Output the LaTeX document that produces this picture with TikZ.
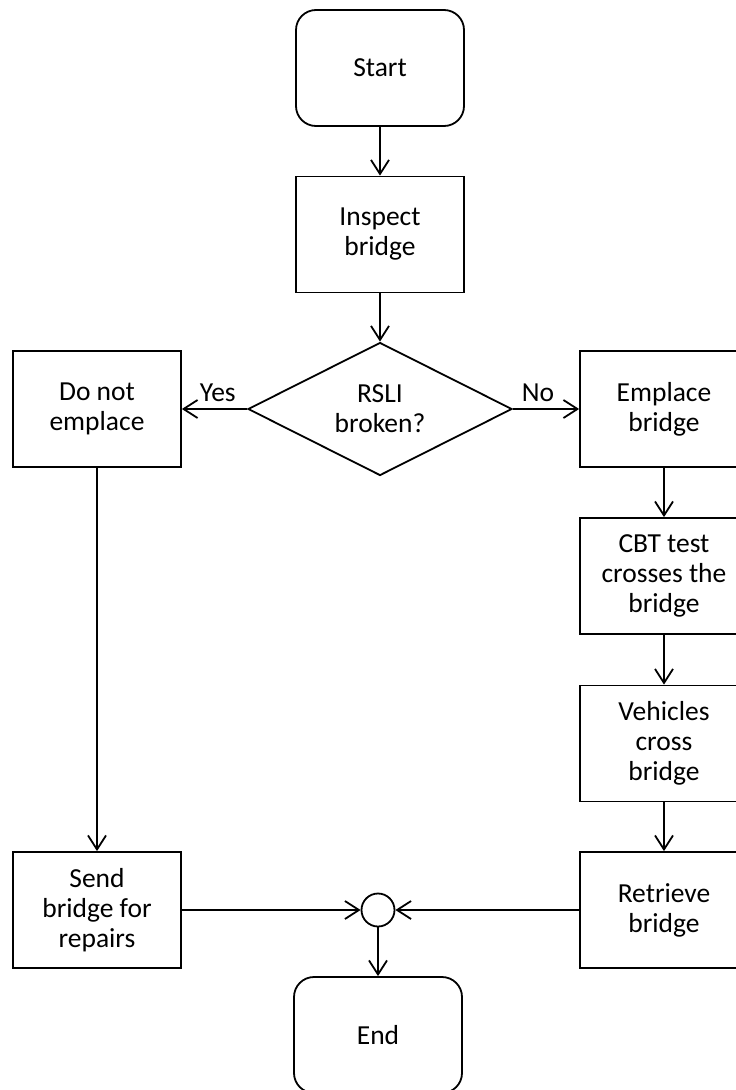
\documentclass[tikz,border=0pt]{standalone}
\usepackage{fontspec}
\setmainfont{Carlito}
\usetikzlibrary{shapes.geometric,arrows.meta}

\begin{document}
\begin{tikzpicture}[x=1pt, y=-1pt, line width=1.8pt,
  every node/.style={font=\fontsize{27.5}{30}\selectfont, align=center},
  box/.style={draw, rectangle, minimum width=168pt, minimum height=116pt, inner sep=2pt},
  term/.style={box, rounded corners=20pt},
  decide/.style={draw, diamond, aspect=2, minimum width=264pt, minimum height=133pt, inner sep=0pt},
  joint/.style={draw, circle, minimum size=33pt, inner sep=0pt},
  flow/.style={-{Straight Barb[length=14pt, width=18pt]}}]

\def \midx {380}
\def \leftx {97}
\def \rightx {664}

\useasboundingbox (0,0) rectangle (736,1090);

% main column
\node[term] (start) at (\midx, 68) {Start};
\node[box] (inspect) at (\midx, 234.5) {Inspect\\bridge};
\node[decide] (check) at (\midx, 409) {RSLI\\broken?};

% left branch
\node[box] (noemplace) at (\leftx, 409) {Do not\\emplace};
\node[box] (repairs) at (\leftx, 910) {Send\\bridge for\\repairs};

% right branch
\node[box] (emplace) at (\rightx, 409) {Emplace\\bridge};
\node[box] (cbt) at (\rightx, 576) {CBT test\\crosses the\\bridge};
\node[box] (vehicles) at (\rightx, 743.5) {Vehicles\\cross\\bridge};
\node[box] (retrieve) at (\rightx, 910) {Retrieve\\bridge};

% merge and finish
\node[joint] (merge) at (378, 910) {};
\node[term] (finish) at (378, 1035) {End};

\draw[flow] (start) -- (inspect);
\draw[flow] (inspect) -- (check);
\draw[flow] (check.west) -- node[pos=0.45, above=3pt] {Yes} (noemplace);
\draw[flow] (check.east) -- node[pos=0.38, above=3pt] {No} (emplace);
\draw[flow] (noemplace) -- (repairs);
\foreach \a/\b in {emplace/cbt, cbt/vehicles, vehicles/retrieve}
  \draw[flow] (\a) -- (\b);
\draw[flow] (repairs) -- (merge);
\draw[flow] (retrieve) -- (merge);
\draw[flow] (merge) -- (finish);

\end{tikzpicture}
\end{document}
